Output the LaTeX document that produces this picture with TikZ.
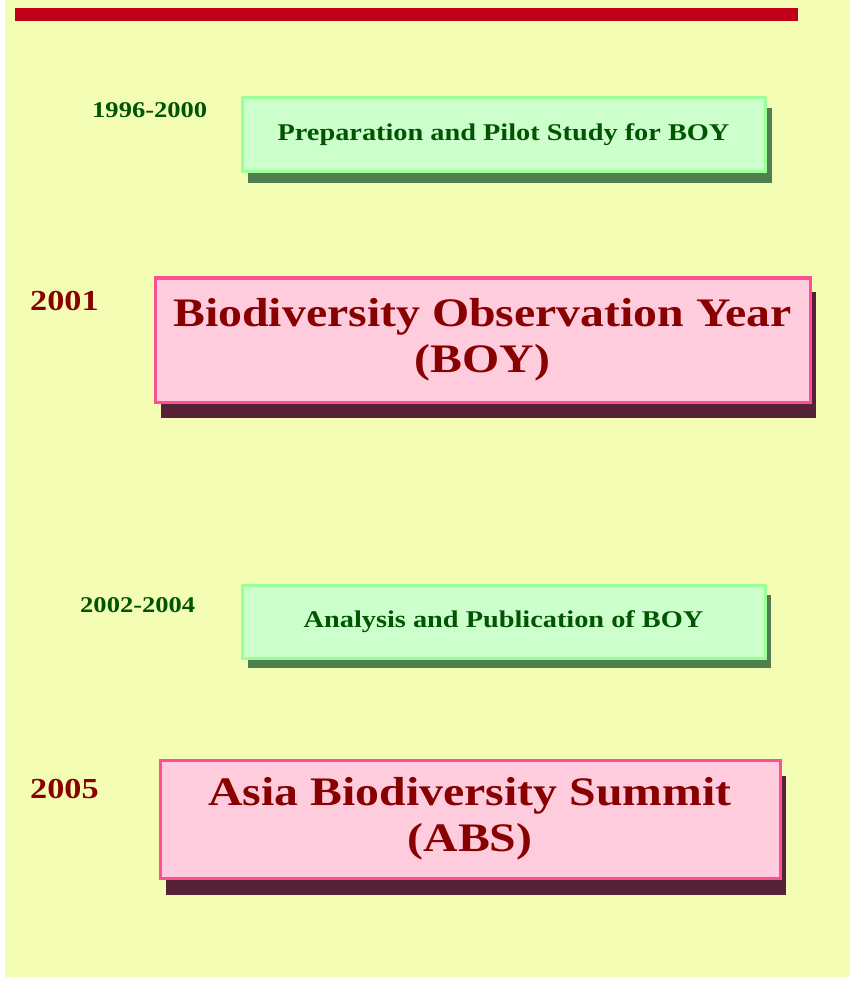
\documentclass[tikz,border=0pt]{standalone}
\usepackage{fontspec}
\setmainfont{Liberation Serif}
\newfontfamily\widefont[FakeStretch=1.18]{Liberation Serif}
\definecolor{bgyel}{RGB}{243,253,180}
\definecolor{barred}{RGB}{192,0,24}
\definecolor{gfill}{RGB}{204,255,204}
\definecolor{gline}{RGB}{153,255,153}
\definecolor{gshadow}{RGB}{79,127,79}
\definecolor{pfill}{RGB}{255,204,221}
\definecolor{pline}{RGB}{255,79,148}
\definecolor{pshadow}{RGB}{85,34,56}
\definecolor{gtext}{RGB}{0,85,0}
\definecolor{rtext}{RGB}{136,0,0}
\tikzset{
  gbox/.style={draw=gline, line width=3pt, fill=gfill, text=gtext, align=center, inner sep=0pt,
    font=\widefont\bfseries\fontsize{24}{28}\selectfont},
  pbox/.style={draw=pline, line width=3pt, fill=pfill, text=rtext, align=center, inner sep=0pt,
    font=\widefont\bfseries\fontsize{40.5}{46}\selectfont},
  gyear/.style={text=gtext, anchor=base west, inner sep=0pt, font=\widefont\bfseries\fontsize{22.5}{25}\selectfont},
  pyear/.style={text=rtext, anchor=base west, inner sep=0pt, font=\widefont\bfseries\fontsize{29}{32}\selectfont},
}
\begin{document}
\begin{tikzpicture}[x=1pt,y=-1pt]
\useasboundingbox (0,0) rectangle (850,981);
\fill[white] (0,0) rectangle (850,981);
\fill[bgyel] (5,0) rectangle (850,977);
\fill[barred] (15,8) rectangle (798,21);
% box 1
\fill[gshadow] (248,108) rectangle (772,183);
\node[gbox, minimum width=523pt, minimum height=74pt] (b1) at (503.5,135) {Preparation and Pilot Study for BOY};
\node[gyear] (y1) at (92,118) {1996-2000};
% box 2
\fill[pshadow] (161,292) rectangle (816,418);
\node[pbox, minimum width=655pt, minimum height=124pt] (b2) at (482.5,340) {Biodiversity Observation Year\\(BOY)};
\node[pyear] (y2) at (30,310) {2001};
% box 3
\fill[gshadow] (248,595) rectangle (771,668);
\node[gbox, minimum width=523pt, minimum height=73pt] (b3) at (503.5,621.5) {Analysis and Publication of BOY};
\node[gyear] (y3) at (80,612) {2002-2004};
% box 4
\fill[pshadow] (166,776) rectangle (786,895);
\node[pbox, minimum width=620pt, minimum height=118pt] (b4) at (470,819) {Asia Biodiversity Summit\\(ABS)};
\node[pyear] (y4) at (30,798) {2005};
\end{tikzpicture}
\end{document}
